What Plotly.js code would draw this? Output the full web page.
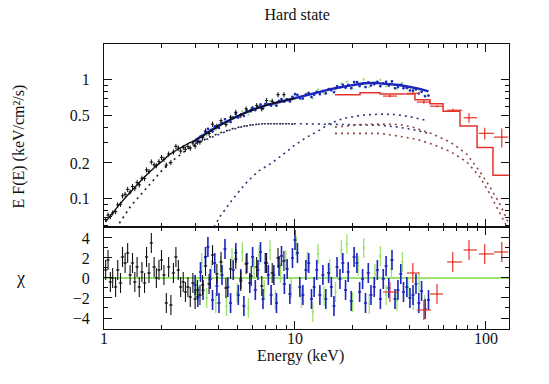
<!DOCTYPE html>
<html><head><meta charset="utf-8">
<script src="https://cdn.plot.ly/plotly-3.0.1.min.js"></script>
<style>html,body{margin:0;padding:0;background:#fff}#chart{width:549px;height:384px}</style>
</head><body><div id="chart"></div>
<script>
// ---------- data ----------
const blackE = [1.02,1.05,1.08,1.11,1.15,1.18,1.22,1.25,1.29,1.33,
  1.37,1.41,1.45,1.49,1.53,1.58,1.63,1.67,1.72,1.77,
  1.83,1.88,1.94,2.00,2.06,2.12,2.18,2.24,2.31,2.38,
  2.45,2.52,2.60,2.67,2.75,2.83,2.92,3.00,3.09,3.18,
  3.28,
  3.40,3.55,3.70,3.90,4.10,4.35,4.60,4.90,5.20,5.55,
  5.90,6.30,6.70,
  7.1,7.6,8.15,8.75];
const blackFlux = [0.067,0.073,0.071,0.076,0.078,0.089,0.090,0.106,0.109,0.120,
  0.114,0.127,0.122,0.137,0.131,0.149,0.148,0.175,0.170,0.204,
  0.193,0.190,0.205,0.223,0.215,0.192,0.238,0.202,0.247,0.276,
  0.267,0.252,0.270,0.261,0.275,0.267,0.295,0.277,0.300,0.300,
  0.326,
  0.371,0.354,0.424,0.408,0.454,0.421,0.484,0.533,0.501,0.570,
  0.560,0.607,0.571,
  0.67,0.66,0.75,0.75];
const blackChi = [0.8,1.8,-0.4,0.0,-0.9,0.8,-0.5,2.1,1.5,2.5,
  0.3,1.5,-0.4,1.1,-0.9,0.6,-0.5,2.1,0.5,3.5,
  1.1,0.0,0.8,1.8,0.3,-2.5,1.1,-2.7,0.5,2.1,
  0.8,-0.9,-0.4,-1.4,-0.9,-1.9,-0.5,-2.1,-1.2,-1.7,
  -0.7,
  1.2,-0.6,2.3,0.4,1.6,-1.0,0.9,1.9,-0.3,1.4,
  0.2,1.1,-0.8,
  1.5,0.5,2.0,1.7];
const blackModelE = [1.02,1.1,1.2,1.3,1.4,1.5,1.6,1.7,1.8,1.9,2.0,2.2,2.4,2.6,2.8,3.0,3.3,3.6,4.0,4.5,5.0,5.5,6.0,6.5,7.0,8.0,9.0,10.0];
const blackModelF = [0.064,0.075,0.089,0.103,0.118,0.133,0.148,0.163,0.178,0.192,0.205,0.235,0.257,0.277,0.295,0.31,0.34,0.37,0.41,0.455,0.495,0.53,0.56,0.585,0.61,0.645,0.675,0.70];

const blueE = [3.0,3.1,3.2,3.3,3.4,3.5,3.6,3.7,3.8,3.9,
  4.0,4.15,4.3,4.45,4.6,4.75,4.9,5.05,5.2,5.4,
  5.6,5.8,6.0,6.2,6.4,6.6,6.8,7.0,7.25,7.5,
  7.75,8.0,8.25,8.5,8.8,9.1,9.4,9.7,10.0,10.3,
  10.6,11.0,11.4,11.8,12.2,12.6,13.0,13.5,14.0,14.5,
  15.0,15.5,16.0,16.6,17.2,17.8,18.4,19.0,19.7,20.4,
  21.1,21.8,22.6,23.4,24.2,25.0,26.0,27.0,28.0,29.0,
  30.0,31.0,32.2,33.4,34.6,35.8,37.0,38.5,40.0,41.5,
  43.0,44.5,46.0,48.0,50.0];
const blueFlux = [0.306,0.308,0.334,0.332,0.365,0.388,0.374,0.368,0.407,0.399,
  0.394,0.433,0.466,0.447,0.442,0.483,0.515,0.483,0.509,0.496,
  0.551,0.545,0.584,0.556,0.589,0.621,0.575,0.628,0.624,0.607,
  0.639,0.607,0.667,0.689,0.656,0.686,0.658,0.720,0.759,0.747,
  0.700,0.696,0.753,0.776,0.718,0.751,0.794,0.757,0.806,0.770,
  0.834,0.817,0.787,0.882,0.866,0.910,0.859,0.907,0.851,0.957,
  0.956,0.887,0.927,0.870,0.952,0.897,0.919,0.963,0.885,0.932,
  0.965,0.895,0.971,0.850,0.870,0.909,0.850,0.854,0.814,0.813,
  0.832,0.767,0.793,0.727,0.738];
const blueChi = [-0.7,-1.9,0.6,-1.2,2.1,3.1,-0.1,-2.2,1.5,-0.8,
  -2.5,0.3,2.9,-0.9,-2.5,0.8,2.5,-1.7,-0.1,-2.8,
  1.5,-0.5,2.1,-1.2,0.8,2.6,-2.1,1.5,0.3,-1.7,
  0.3,-2.5,1.2,2.2,-0.6,0.9,-1.6,2.0,3.8,2.5,
  -0.9,-1.7,0.8,1.5,-2.1,-0.9,0.8,-1.7,0.3,-2.1,
  0.5,-0.9,-2.8,1.1,-0.1,1.5,-1.2,0.6,-2.3,2.1,
  1.5,-1.4,-0.1,-2.5,0.5,-1.7,-0.9,0.8,-2.1,-0.1,
  1.2,-1.0,1.8,-2.1,-1.2,0.4,-1.4,-0.9,-2.0,-1.7,
  -0.6,-2.5,-1.3,-3.1,-2.2];
const blueModelE = [3.0,3.5,4.0,4.5,5.0,5.5,6.0,6.5,7.0,8.0,9.0,10,12,14,16,18,20,23,26,30,35,40,45,50];
const blueModelF = [0.31,0.365,0.415,0.455,0.495,0.53,0.56,0.585,0.61,0.642,0.673,0.70,0.758,0.80,0.846,0.877,0.905,0.935,0.943,0.93,0.904,0.87,0.84,0.80];

const greenE = [3.05,3.25,3.45,3.65,3.85,4.08,4.38,4.68,4.98,5.3,
  5.7,6.1,6.5,6.9,7.4,7.9,8.4,8.95,9.55,10.15,
  10.8,11.6,12.4,13.2,14.2,15.2,16.3,17.5,18.7,20.0,
  21.4,22.9,24.5,26.2,28.0,30.0,32.0,34.2,36.5,39.0,
  41.7,44.6,47.7];
const greenFlux = [0.309,0.345,0.343,0.386,0.380,0.433,0.422,0.489,0.482,0.544,
  0.509,0.576,0.612,0.590,0.660,0.612,0.662,0.696,0.671,0.753,
  0.684,0.773,0.698,0.830,0.769,0.846,0.822,0.933,0.966,0.851,
  0.951,1.010,0.871,0.953,0.998,0.880,0.946,0.839,0.939,0.847,
  0.798,0.826,0.739];
const greenChi = [-1.0,1.5,-2.0,0.8,-2.5,1.2,-2.8,2.0,-1.5,2.6,
  -3.0,1.0,2.3,-1.2,2.8,-2.2,0.5,1.8,-1.0,3.2,
  -2.0,1.6,-3.4,2.4,-1.8,0.9,-1.4,2.8,3.4,-2.4,
  1.2,3.0,-2.6,0.4,2.2,-1.7,0.9,-2.3,1.6,-1.0,
  -2.2,-0.5,-2.7];

const redE = [31.4,41.4,47.3,55.4,67.0,81.5,98.5,121];
const redEerrLo = [2.5,2.8,3.8,4.5,4.4,5.1,6.8,11];
const redEerrHi = [2.8,3.6,4.2,4.2,8.0,8.3,11.5,10];
const redFlux = [0.73,0.77,0.65,0.60,0.555,0.48,0.355,0.33];
const redFluxErr = [0.015,0.015,0.02,0.012,0.015,0.045,0.04,0.06];
const redChi = [-1.4,0.5,-3.2,-1.6,1.6,2.8,2.4,2.6];
const redStepE = [16.2,21.9,27.9,42.5,50.9,59.6,73.1,89.8,108.8,131.9];
const redStepF = [0.75,0.78,0.76,0.68,0.63,0.545,0.41,0.27,0.158,0.158];

// model components (dotted)
const blackCompE = [1.15,1.2,1.3,1.38,1.5,1.62,1.8,1.99,2.2,2.53,2.8,3.18,3.5,3.9,4.3,4.73,5.3,6.0,6.8,7.7,8.8,10.0];
const blackCompF = [0.057,0.062,0.075,0.087,0.101,0.117,0.143,0.170,0.200,0.237,0.268,0.300,0.326,0.350,0.372,0.390,0.406,0.420,0.427,0.430,0.428,0.424];
const blueCompE = [3.0,3.4,3.9,4.5,5.2,6.0,7.0,8.5,10,13,17,22,28,35,42,50];
const blueCompF = [0.29,0.315,0.345,0.375,0.400,0.418,0.428,0.430,0.428,0.425,0.423,0.42,0.415,0.40,0.38,0.355];
const blueReflE = [3.77,4.05,4.73,5.6,6.4,7.4,8.3,9.8,11.5,13.2,15.2,18,22.7,28,34.2,40,46,49];
const blueReflF = [0.058,0.071,0.10,0.138,0.17,0.196,0.224,0.277,0.329,0.37,0.43,0.475,0.505,0.515,0.51,0.49,0.465,0.455];
const redReflE = [16.2,18.7,22,27.8,35.5,41.5,52.7,65,79.4,92.8,104.8,118,131];
const redReflF = [0.40,0.41,0.42,0.425,0.42,0.40,0.35,0.30,0.237,0.17,0.126,0.091,0.063];
const redCompE = [16.2,18.9,27.8,35.5,43.5,52.7,65,79.4,92.8,104.8,118,129];
const redCompF = [0.355,0.355,0.355,0.335,0.316,0.287,0.25,0.204,0.153,0.11,0.075,0.058];

const xTickVals = [1,10,100];
const xTickText = ['1','10','100'];
const yTickVals = [0.1,0.2,0.5,1];
const yTickText = ['0.1','0.2','0.5','1'];
const chiTickVals = [-4,-2,0,2,4];
const chiTickText = ['\u22124','\u22122','0','2','4'];

// ---------- styles ----------
const FONT = 'Liberation Serif';
const COL = {black:'#111111', blue:'#1a26bc', green:'#9be26f', red:'#e3342c', bdot:'#2e3678', rdot:'#8e4a44', kdot:'#222222'};
const TF = {family:FONT, size:16, color:'#111'};

function dotted(x, y, color) {
  return {type:'scatter', mode:'lines', x:x, y:y, xaxis:'x2', yaxis:'y',
    line:{color:color, width:1.6, dash:'2px,4px'}, hoverinfo:'skip'};
}
function crosses(x, y, color, xa, ya, ex, ey, th) {
  const t = th || 1;
  return {type:'scatter', mode:'markers', x:x, y:y, xaxis:xa, yaxis:ya,
    marker:{size:1.5, color:color}, error_x:Object.assign({color:color, thickness:t, width:0}, ex),
    error_y:Object.assign({color:color, thickness:t, width:0}, ey), hoverinfo:'skip'};
}

const traces = [
  dotted(blackCompE, blackCompF, COL.kdot),
  dotted(blueCompE, blueCompF, COL.bdot),
  dotted(blueReflE, blueReflF, COL.bdot),
  dotted(redReflE, redReflF, COL.rdot),
  dotted(redCompE, redCompF, COL.rdot),
  crosses(greenE, greenFlux, COL.green, 'x2', 'y', {type:'percent', value:1.5}, {type:'percent', value:2.5}),
  crosses(blueE, blueFlux, COL.blue, 'x2', 'y', {type:'percent', value:1.5}, {type:'percent', value:2.5}, 1.5),
  {type:'scatter', mode:'lines', x:blueModelE, y:blueModelF, xaxis:'x2', yaxis:'y', line:{color:COL.blue, width:2.4}},
  crosses(blackE, blackFlux, COL.black, 'x2', 'y', {type:'percent', value:2.0}, {type:'percent', value:5}),
  {type:'scatter', mode:'lines', x:blackModelE, y:blackModelF, xaxis:'x2', yaxis:'y', line:{color:COL.black, width:1.4}},
  {type:'scatter', mode:'lines', x:redStepE, y:redStepF, xaxis:'x2', yaxis:'y', line:{color:COL.red, width:1.5, shape:'hv'}},
  crosses(redE, redFlux, COL.red, 'x2', 'y', {type:'data', symmetric:false, array:redEerrHi, arrayminus:redEerrLo}, {type:'data', array:redFluxErr}, 1.2),
  // residuals
  crosses(greenE, greenChi, COL.green, 'x', 'y2', {type:'percent', value:1.5}, {type:'constant', value:1}, 1.3),
  crosses(blueE, blueChi, COL.blue, 'x', 'y2', {type:'percent', value:1.8}, {type:'constant', value:1}, 1.6),
  crosses(blackE, blackChi, COL.black, 'x', 'y2', {type:'percent', value:2.0}, {type:'constant', value:1}, 1.1),
  crosses(redE, redChi, COL.red, 'x', 'y2', {type:'data', symmetric:false, array:redEerrHi, arrayminus:redEerrLo}, {type:'constant', value:1}, 1.2)
];

const minorX = {tickvals:[2,3,4,5,6,7,8,9,20,30,40,50,60,70,80,90], ticks:'inside', ticklen:4, tickwidth:1, tickcolor:'#111', showgrid:false};
const baseX = {type:'log', range:[0, 2.1206], tickvals:xTickVals, ticktext:xTickText, ticks:'inside', ticklen:8, tickwidth:1,
  tickcolor:'#111', showline:true, linecolor:'#111', linewidth:1, mirror:'allticks', showgrid:false, zeroline:false, minor:minorX,
  tickfont:TF, ticklabelstandoff:-5};

const layout = {
  width:549, height:384,
  margin:{l:104, r:40, t:44, b:55, pad:0},
  paper_bgcolor:'#fff', plot_bgcolor:'#fff',
  showlegend:false,
  font:TF,
  title:{text:'Hard state', font:TF, xref:'paper', x:0.477, xanchor:'center', yref:'container', y:0.962, yanchor:'middle'},
  xaxis: Object.assign({}, baseX, {anchor:'y2'}),
  xaxis2: Object.assign({}, baseX, {anchor:'y', matches:'x', showticklabels:false}),
  yaxis: {domain:[0.358,1], anchor:'x2', type:'log', range:[-1.2366, 0.301], tickvals:yTickVals, ticktext:yTickText,
    ticks:'inside', ticklen:8, tickwidth:1, tickcolor:'#111', showline:true, linecolor:'#111', linewidth:1, mirror:'allticks',
    showgrid:false, zeroline:false, tickfont:TF, ticklabelstandoff:10,
    minor:{tickvals:[0.06,0.07,0.08,0.09,0.3,0.4,0.6,0.7,0.8,0.9], ticks:'inside', ticklen:4, tickwidth:1, tickcolor:'#111', showgrid:false}},
  yaxis2: {domain:[0,0.358], anchor:'x', range:[-5.1, 5.1], tickvals:chiTickVals, ticktext:chiTickText,
    ticks:'inside', ticklen:8, tickwidth:1, tickcolor:'#111', showline:true, linecolor:'#111', linewidth:1, mirror:'allticks',
    showgrid:false, zeroline:true, zerolinecolor:COL.green, zerolinewidth:1.2, tickfont:TF, ticklabelstandoff:10,
    minor:{tickvals:[-5,-3,-1,1,3,5], ticks:'inside', ticklen:4, tickwidth:1, tickcolor:'#111', showgrid:false}},
  annotations:[
    {text:'E F(E) (keV/cm\u00b2/s)', xref:'paper', yref:'paper', x:-0.211, y:0.6386, textangle:-90, showarrow:false,
      xanchor:'center', yanchor:'middle', font:TF},
    {text:'\u03c7', xref:'paper', yref:'paper', x:-0.205, y:0.179, showarrow:false, xanchor:'center', yanchor:'middle',
      font:{family:FONT, size:18, color:'#111'}},
    {text:'Energy (keV)', xref:'paper', yref:'paper', x:0.484, y:-0.095, showarrow:false, xanchor:'center', yanchor:'middle',
      font:TF}
  ]
};

Plotly.newPlot('chart', traces, layout, {displayModeBar:false, staticPlot:true});
</script>
</body></html>
